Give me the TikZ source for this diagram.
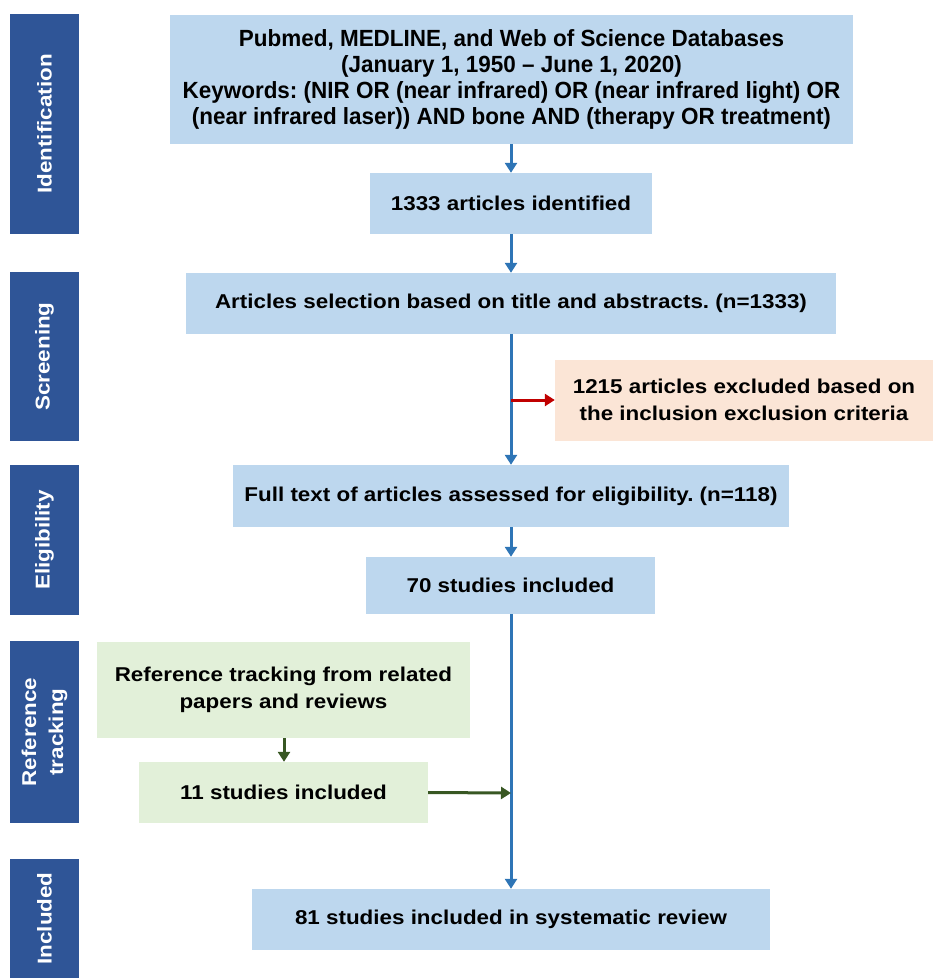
\documentclass[tikz,border=0pt]{standalone}
\usepackage{fontspec}
\setmainfont{Liberation Sans}
\newfontfamily\widefont[FakeStretch=1.12]{Liberation Sans}
\newfontfamily\topfont[FakeStretch=0.96]{Liberation Sans}
\usetikzlibrary{arrows.meta}
\definecolor{boxblue}{HTML}{BDD7EE}
\definecolor{sideblue}{HTML}{2F5597}
\definecolor{peach}{HTML}{FBE5D6}
\definecolor{lgreen}{HTML}{E2F0D9}
\definecolor{arrblue}{HTML}{2E75B6}
\definecolor{arrred}{HTML}{C00000}
\definecolor{arrgreen}{HTML}{385723}
\tikzset{
  box/.style={fill=boxblue, draw=none, inner sep=0pt, align=center, font=\widefont\fontsize{20}{27}\selectfont\bfseries},
  exbox/.style={box, fill=peach},
  grbox/.style={box, fill=lgreen},
  side/.style={fill=sideblue, draw=none, inner sep=0pt, minimum width=69pt},
  sidetext/.style={text=white, rotate=90, align=center, font=\widefont\fontsize{20}{27}\selectfont\bfseries},
  flow/.style={draw=arrblue, line width=3pt, -{Triangle[width=12pt,length=10pt]}},
  redflow/.style={draw=arrred, line width=3pt, -{Triangle[width=12pt,length=10pt]}},
  greenflow/.style={draw=arrgreen, line width=3pt, -{Triangle[width=12pt,length=10pt]}},
}
\begin{document}
\frenchspacing
\begin{tikzpicture}[x=1pt,y=-1pt]
\useasboundingbox (0,0) rectangle (933,978);
% side bars
\node[side, minimum height=220pt] (s1) at (44.5,124) {};
\node[sidetext] at (s1) {Identification};
\node[side, minimum height=169pt] (s2) at (44.5,356.5) {};
\node[sidetext] at (s2) {Screening};
\node[side, minimum height=150pt] (s3) at (44.5,540) {};
\node[sidetext] at (s3) {Eligibility};
\node[side, minimum height=182pt] (s4) at (44.5,732) {};
\node[sidetext] at (s4) {Reference\\tracking};
\node[side, minimum height=130pt] (s5) at (44.5,924) {};
\node[sidetext] at (44.5,918.5) {Included};
% boxes
\node[box, minimum width=683pt, minimum height=129pt, font=\topfont\fontsize{23.4}{26}\selectfont\bfseries] (top) at (511.5,79.5)
  {Pubmed, MEDLINE, and Web of Science Databases\\(January 1, 1950 – June 1, 2020)\\Keywords: (NIR OR (near infrared) OR (near infrared light) OR\\(near infrared laser)) AND bone AND (therapy OR treatment)};
\node[box, minimum width=282pt, minimum height=61pt] (n1333) at (511,203.5) {1333 articles identified};
\node[box, minimum width=650pt, minimum height=61pt] (sel) at (511,303.5) {Articles selection based on title and abstracts. (n=1333)};
\node[exbox, minimum width=378pt, minimum height=81pt] (excl) at (744,400) {1215 articles excluded based on\\the inclusion exclusion criteria};
\node[box, minimum width=556pt, minimum height=62pt] (full) at (511,496) {Full text of articles assessed for eligibility. (n=118)};
\node[box, minimum width=289pt, minimum height=57pt] (n70) at (510.5,585.5) {70 studies included};
\node[grbox, minimum width=373pt, minimum height=96pt] (ref) at (283.5,690) {Reference tracking from related\\papers and reviews};
\node[grbox, minimum width=289pt, minimum height=61pt] (n11) at (283.5,792.5) {11 studies included};
\node[box, minimum width=518pt, minimum height=61pt] (n81) at (511,919.5) {81 studies included in systematic review};
% connectors
\coordinate (branch) at (511,400);
\coordinate (join) at (511,793);
\draw[flow] (top.south -| 511,0) -- (n1333.north -| 511,0);
\draw[flow] (n1333.south -| 511,0) -- (sel.north -| 511,0);
\draw[flow] (sel.south -| 511,0) -- (full.north -| 511,0);
\draw[flow] (full.south -| 511,0) -- (n70.north -| 511,0);
\draw[flow] (n70.south -| 511,0) -- (n81.north -| 511,0);
\draw[redflow] (branch) -- (excl.west);
\draw[greenflow] (ref.south -| 284,0) -- (n11.north -| 284,0);
\draw[greenflow] (n11.east) -- (join);
\end{tikzpicture}
\end{document}
